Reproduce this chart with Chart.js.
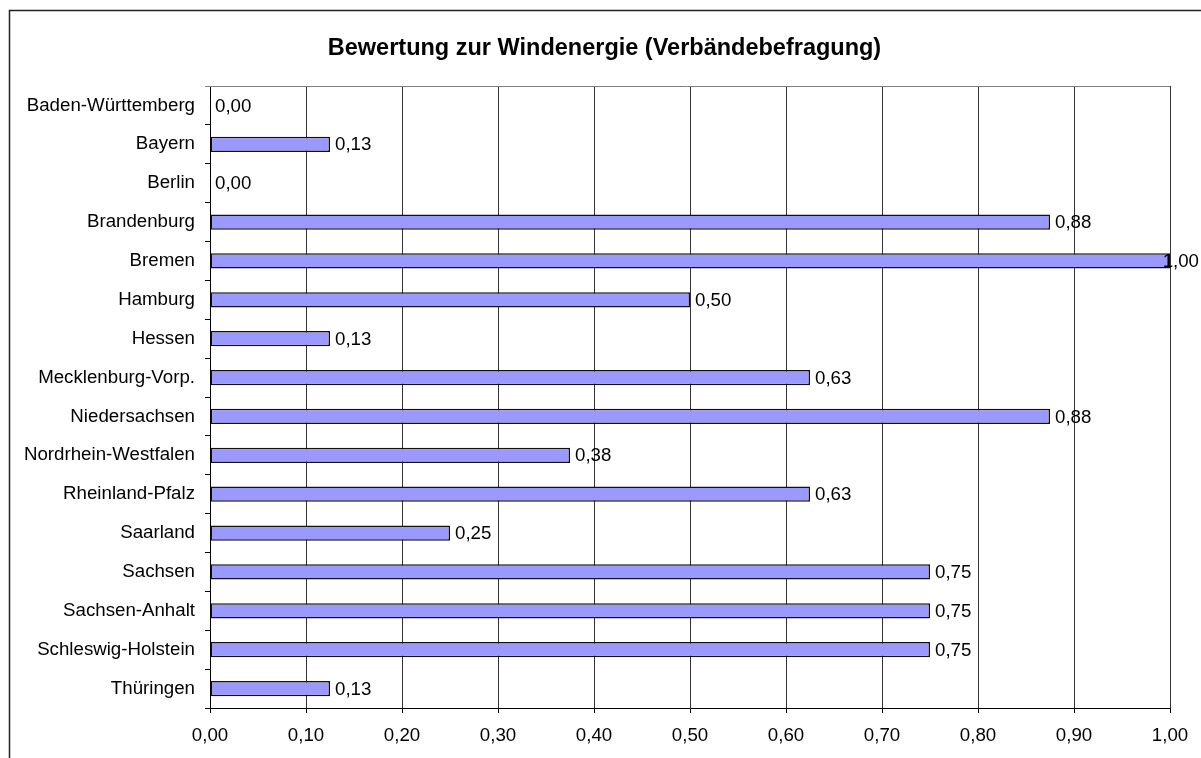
<!DOCTYPE html>
<html>
<head>
<meta charset="utf-8">
<script src="https://cdn.jsdelivr.net/npm/chart.js@4"></script>
<style>
  html, body { margin: 0; padding: 0; background: #fff; }
  canvas { display: block; }
</style>
</head>
<body>
<canvas id="chart" width="1201" height="758"></canvas>
<script>
const chartTitle = "Bewertung zur Windenergie (Verbändebefragung)";

const states = [
    "Baden-Württemberg", "Bayern", "Berlin", "Brandenburg", "Bremen", "Hamburg",
    "Hessen", "Mecklenburg-Vorp.", "Niedersachsen", "Nordrhein-Westfalen",
    "Rheinland-Pfalz", "Saarland", "Sachsen", "Sachsen-Anhalt",
    "Schleswig-Holstein", "Thüringen"
];

const ratings = [
    0.000, 0.125, 0.000, 0.875, 1.000, 0.500, 0.125, 0.625,
    0.875, 0.375, 0.625, 0.250, 0.750, 0.750, 0.750, 0.125
];

const xTickLabels = ["0,00", "0,10", "0,20", "0,30", "0,40", "0,50", "0,60", "0,70", "0,80", "0,90", "1,00"];

const labelFont = "18.7px 'Liberation Sans', Arial, sans-serif";

function formatValue(v) {
    return v.toFixed(2).replace(".", ",");
}

// frame, title and the grey top edge of the plot area
const decorations = {
    id: "decorations",
    beforeDatasetsDraw(chart) {
        const ctx = chart.ctx;
        const area = chart.chartArea;
        ctx.save();
        ctx.strokeStyle = "#222";
        ctx.lineWidth = 1.5;
        ctx.beginPath();
        ctx.moveTo(9.5, chart.height);
        ctx.lineTo(9.5, 10.5);
        ctx.lineTo(chart.width + 2, 10.5);
        ctx.stroke();

        ctx.strokeStyle = "#808080";
        ctx.lineWidth = 1;
        ctx.beginPath();
        ctx.moveTo(area.left - 5, Math.round(area.top) + 0.5);
        ctx.lineTo(area.right, Math.round(area.top) + 0.5);
        ctx.stroke();

        ctx.fillStyle = "#000";
        ctx.font = "bold 23.5px 'Liberation Sans', Arial, sans-serif";
        ctx.textAlign = "center";
        ctx.textBaseline = "middle";
        ctx.fillText(chartTitle, 604.5, 48.5);
        ctx.restore();
    }
};

// value labels right of each bar
const valueLabels = {
    id: "valueLabels",
    afterDatasetsDraw(chart) {
        const ctx = chart.ctx;
        const meta = chart.getDatasetMeta(0);
        ctx.save();
        ctx.font = labelFont;
        ctx.fillStyle = "#000";
        ctx.textAlign = "left";
        ctx.textBaseline = "middle";
        meta.data.forEach((bar, i) => {
            const text = formatValue(ratings[i]);
            const w = ctx.measureText(text).width;
            const x = Math.min(bar.x + 5, chart.width - 2 - w);
            ctx.fillText(text, x, bar.y + 1);
        });
        ctx.restore();
    }
};

new Chart(document.getElementById("chart"), {
    type: "bar",
    data: {
        labels: states,
        datasets: [{
            data: ratings,
            backgroundColor: "#9999FF",
            borderColor: "#111",
            borderWidth: 1.5,
            borderSkipped: false,
            barPercentage: 0.39,
            categoryPercentage: 1
        }]
    },
    options: {
        indexAxis: "y",
        responsive: false,
        devicePixelRatio: 1,
        animation: false,
        layout: {
            padding: { top: 86, right: 31, left: 0, bottom: 0 }
        },
        plugins: {
            legend: { display: false },
            title: { display: false },
            tooltip: { enabled: false }
        },
        scales: {
            x: {
                min: 0,
                max: 1,
                ticks: {
                    stepSize: 0.1,
                    color: "#000",
                    padding: 12,
                    maxRotation: 0,
                    font: { family: "'Liberation Sans', Arial, sans-serif", size: 18.7 },
                    callback: (value, index) => xTickLabels[index]
                },
                grid: {
                    color: "#333",
                    lineWidth: 1,
                    tickLength: 5,
                    tickColor: "#000"
                },
                border: { color: "#000", width: 1 },
                afterFit(scale) { scale.height = 50; }
            },
            y: {
                ticks: {
                    color: "#000",
                    padding: 10,
                    font: { family: "'Liberation Sans', Arial, sans-serif", size: 18.7 }
                },
                grid: {
                    drawOnChartArea: false,
                    tickLength: 5,
                    tickColor: "#000",
                    offset: true
                },
                border: { color: "#000", width: 1 },
                afterFit(scale) { scale.width = 210; }
            }
        }
    },
    plugins: [decorations, valueLabels]
});
</script>
</body>
</html>
